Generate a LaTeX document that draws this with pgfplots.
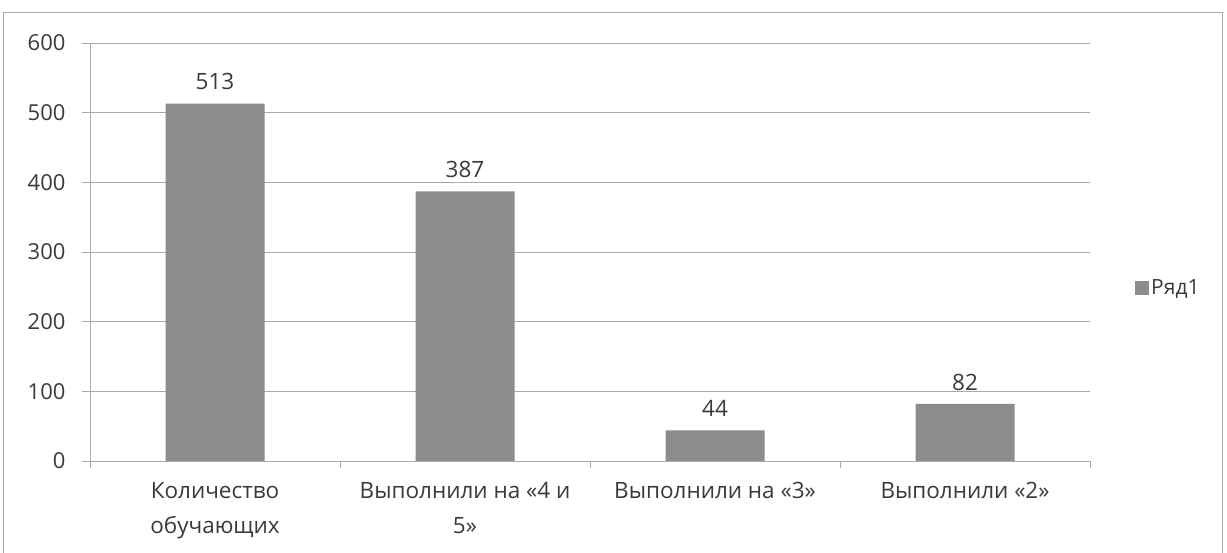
\documentclass[border=0pt]{standalone}
\usepackage{pgfplots}
\pgfplotsset{compat=1.18}
\usepackage{fontspec}
\setmainfont{Open Sans}
\definecolor{bargray}{HTML}{8C8C8C}
\definecolor{txt}{HTML}{3A3A3A}
\definecolor{gridc}{HTML}{AAAAAA}
\begin{document}
\begin{tikzpicture}[x=1pt,y=1pt]
\useasboundingbox (0pt,0pt) rectangle (1227pt,553pt);
\draw[gridc, line width=0.8pt] (3pt,-5pt) rectangle (1222pt,541pt);
\begin{axis}[
  at={(90pt,92pt)}, anchor=south west,
  width=1000pt, height=418pt, scale only axis,
  /pgf/number format/assume math mode=true,
  xmin=-0.5, xmax=3.5, ymin=0, ymax=600,
  ytick={0,100,...,600},
  xtick={0,1,2,3},
  xticklabels={{Количество\\обучающих},{Выполнили на «4 и\\5»},{Выполнили на «3»},{Выполнили «2»}},
  minor xtick={-0.5,0.5,1.5,2.5,3.5},
  major x tick style={draw=none},
  minor x tick style={gridc, line width=0.8pt},
  minor tick length=7pt,
  major tick length=8pt,
  tick align=outside,
  y tick style={gridc, line width=0.8pt},
  axis x line*=bottom, axis y line*=left,
  x axis line style={gridc, line width=0.8pt, -},
  y axis line style={gridc, line width=0.6pt, -},
  ymajorgrids, grid style={gridc, line width=0.6pt},
  xticklabel style={align=center, font=\fontsize{22.5}{35}\selectfont, text=txt, yshift=-10pt},
  yticklabel style={font=\fontsize{22}{26}\selectfont, text=txt, xshift=-13pt},
  ybar, bar width=99pt,
  nodes near coords,
  every node near coord/.append style={font=\fontsize{22.5}{26}\selectfont, text=txt, yshift=10pt},
  legend style={at={(1.042,0.414)}, anchor=west, draw=none, fill=none, font=\fontsize{21}{24}\selectfont, text=txt},
  legend image code/.code={\fill[bargray] (0pt,-7pt) rectangle (14pt,7pt);},
]
\addplot[fill=bargray, draw=none] coordinates {(0,513) (1,387) (2,44) (3,82)};
\addlegendentry{Ряд1}
\end{axis}
\end{tikzpicture}
\end{document}
